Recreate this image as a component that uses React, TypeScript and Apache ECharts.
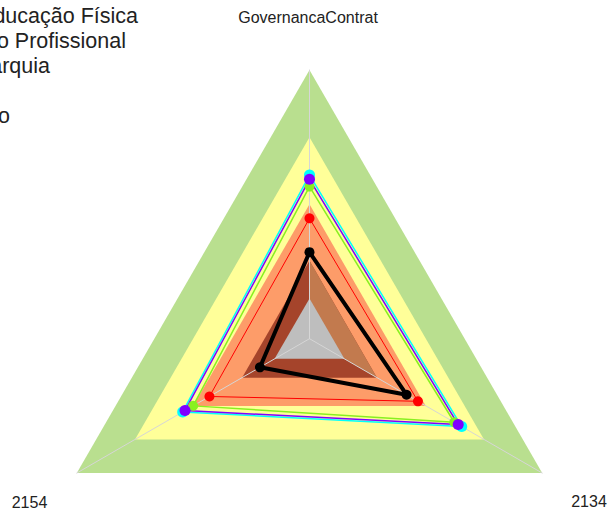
import React, { useEffect, useRef } from "react";
import * as echarts from "echarts";

// Indicators (counter-clockwise from the top, as ECharts lays them out)
const indicatorNames = ["GovernancaContrat", "2154", "2134"];

// Background bands (radius as fraction of max), drawn largest first
const bandLevels = [1, 0.75, 0.5, 0.29, 0.15];
const bandColors = ["#B9DF8F", "#FFFF99", "#FD9C69", "#A5442B", "#BEBEBE"];
// lighter wedge of the brown band (top -> bottom-right sector)
const brownWedge = [0.29, 0, 0.29];
const brownWedgeColor = "#C27A4E";

// Data series
const seriesNames = ["Educação Física", "Ensino Profissional", "Hierarquia", "Média", "Gestão"];
const blackValues = [0.322, 0.213, 0.417];
const redValues = [0.448, 0.43, 0.466];
const limeValues = [0.566, 0.5, 0.622];
const cyanValues = [0.609, 0.545, 0.654];
const purpleValues = [0.593, 0.535, 0.639];

// legend placement: right end of each legend text (px) and its vertical centre
const legendRightEnds = [138, 126, 50, -6, 10];
const legendCenters = [16, 41, 66, 91, 116];

const FONT_FAMILY = "Liberation Sans, Arial, sans-serif";
const LEGEND_SIZE = 21.5;

function measure(text: string): number {
  const c = document.createElement("canvas").getContext("2d")!;
  c.font = `${LEGEND_SIZE}px "Liberation Sans", Arial, sans-serif`;
  return c.measureText(text).width;
}

export default function App() {
  const ref = useRef<HTMLDivElement>(null);
  useEffect(() => {
    const chart = echarts.init(ref.current!, null, { renderer: "svg" });
    const font = FONT_FAMILY;
    const bandData: any[] = bandLevels.map((lv, i) => ({
      value: indicatorNames.map(() => lv),
      areaStyle: { color: bandColors[i], opacity: 1 },
    }));
    bandData.splice(4, 0, {
      value: brownWedge,
      areaStyle: { color: brownWedgeColor, opacity: 1 },
    });
    const dataSeries = [
      { name: seriesNames[2], values: limeValues, color: "#88F020", width: 1.5, size: 10 },
      { name: seriesNames[3], values: cyanValues, color: "#00FFFF", width: 1.5, size: 11 },
      { name: seriesNames[4], values: purpleValues, color: "#8000FF", width: 1.5, size: 11 },
      { name: seriesNames[1], values: redValues, color: "#FF0000", width: 1, size: 10 },
      { name: seriesNames[0], values: blackValues, color: "#000000", width: 4, size: 10 },
    ];
    chart.setOption({
      animation: false,
      backgroundColor: "#FFFFFF",
      legend: seriesNames.map((n, i) => ({
        data: [n],
        left: legendRightEnds[i] - measure(n) - 35,
        top: legendCenters[i] - 5 - LEGEND_SIZE / 2,
        orient: "vertical",
        itemWidth: 25,
        itemHeight: 14,
        selectedMode: false,
        textStyle: { fontSize: LEGEND_SIZE, fontFamily: font, color: "#222" },
      })),
      radar: {
        z: 2,
        center: [309.5, 338.7],
        radius: 268.7,
        startAngle: 90,
        shape: "polygon",
        splitNumber: 1,
        indicator: indicatorNames.map((n) => ({ name: n, min: 0, max: 1 })),
        axisName: { show: false },
        splitLine: { show: false },
        splitArea: { show: false },
        axisTick: { show: false },
        axisLabel: { show: false },
        axisLine: { lineStyle: { color: "#D6D6D6", width: 1 } },
      },
      graphic: [
        { type: "text", x: 308, y: 17.5, style: { text: indicatorNames[0], align: "center", verticalAlign: "middle", font: `16px ${font}`, fill: "#222" } },
        { type: "text", x: 29.5, y: 502, style: { text: indicatorNames[1], align: "center", verticalAlign: "middle", font: `16px ${font}`, fill: "#222" } },
        { type: "text", x: 589, y: 501, style: { text: indicatorNames[2], align: "center", verticalAlign: "middle", font: `16px ${font}`, fill: "#222" } },
      ],
      series: [
        {
          type: "radar",
          z: 1,
          silent: true,
          symbol: "none",
          lineStyle: { width: 0, opacity: 0 },
          data: bandData,
        },
        ...dataSeries.map((s) => ({
          type: "radar",
          name: s.name,
          z: 3,
          symbol: "circle",
          symbolSize: s.size,
          itemStyle: { color: s.color },
          lineStyle: { color: s.color, width: s.width },
          data: [{ value: s.values, name: s.name }],
        })),
      ],
    });
    return () => chart.dispose();
  }, []);
  return (
    <div
      ref={ref}
      style={{ position: "fixed", left: 0, top: 0, width: 611, height: 514 }}
    />
  );
}
